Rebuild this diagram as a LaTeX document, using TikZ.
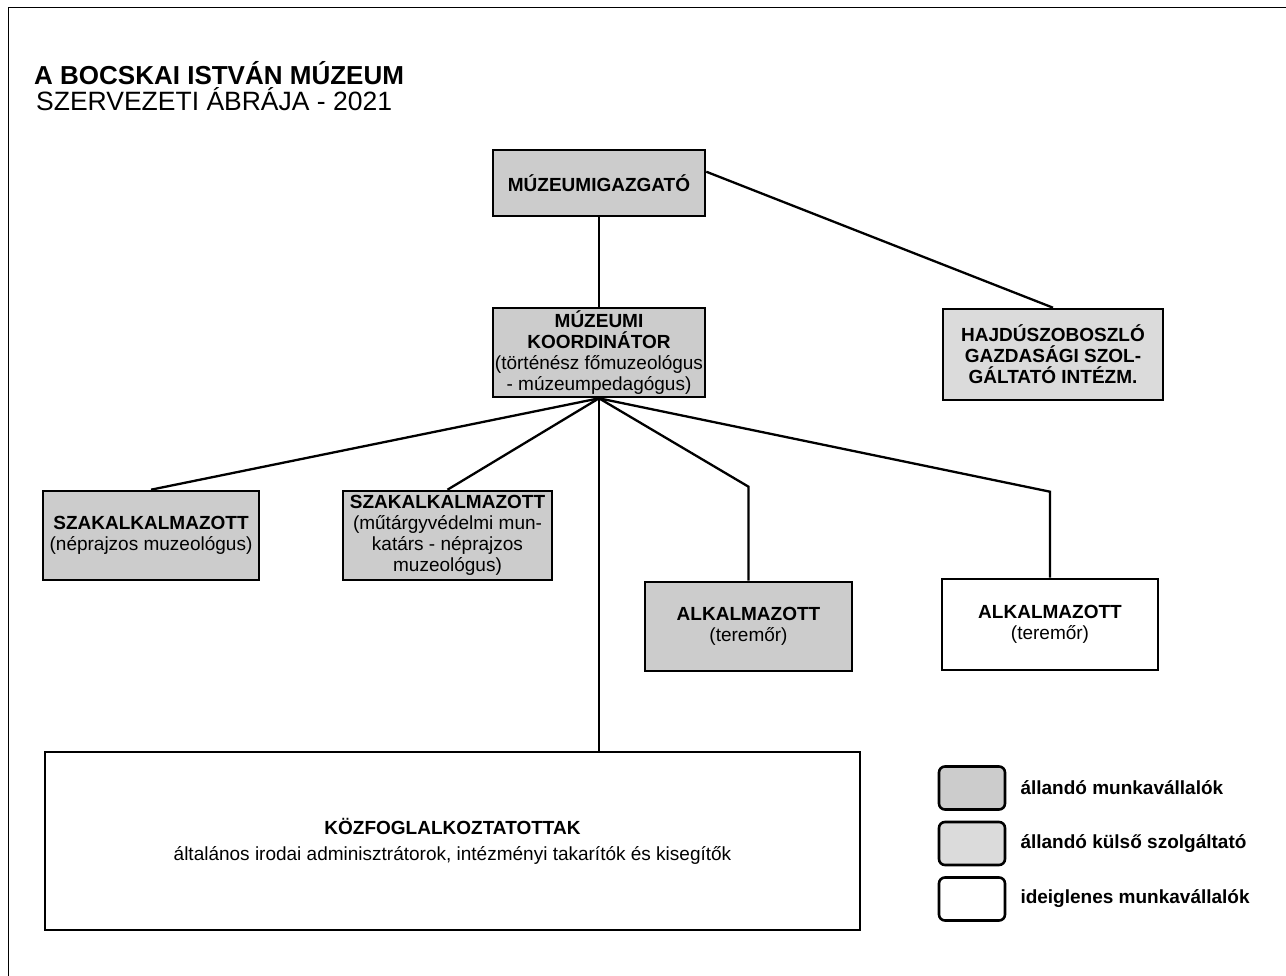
\documentclass[tikz,border=0pt]{standalone}
\usepackage{fontspec}
\setmainfont{Liberation Sans}
\usetikzlibrary{positioning}
\definecolor{permgray}{gray}{0.80}
\definecolor{extgray}{gray}{0.86}
\begin{document}
\begin{tikzpicture}[x=1pt, y=-1pt,
        box/.style={draw, line width=2.6pt, align=center, inner sep=1pt, font=\fontsize{19}{21}\selectfont},
        permbox/.style={box, fill=permgray},
        extbox/.style={box, fill=extgray},
        tempbox/.style={box, fill=white},
        legbox/.style={draw, line width=2.6pt, rounded corners=6pt, minimum width=66pt, minimum height=43pt},
        link/.style={line width=2.3pt}]
        \useasboundingbox (0,0) rectangle (1286,976);
        \draw[line width=1pt] (8,976) -- (8,8) -- (1286,8);

        % title
        \node[anchor=base west, inner sep=0pt, font=\fontsize{26}{28}\selectfont\bfseries] (title) at (34,85) {A BOCSKAI ISTVÁN MÚZEUM};
        \node[anchor=base west, inner sep=0pt, font=\fontsize{26.5}{28}\selectfont] (subtitle) at (36,111) {SZERVEZETI ÁBRÁJA - 2021};

        % boxes
        \node[permbox, minimum width=212pt, minimum height=66pt] (dir) at (599,183) {\textbf{MÚZEUMIGAZGATÓ}};
        \node[permbox, minimum width=212pt, minimum height=89pt] (koord) at (599,352.5)
            {\textbf{MÚZEUMI}\\\textbf{KOORDINÁTOR}\\(történész főmuzeológus\\- múzeumpedagógus)};
        \node[extbox, minimum width=220pt, minimum height=91pt] (hajdu) at (1053,354.5)
            {\textbf{HAJDÚSZOBOSZLÓ}\\\textbf{GAZDASÁGI SZOL-}\\\textbf{GÁLTATÓ INTÉZM.}};
        \node[permbox, minimum width=216pt, minimum height=89pt] (szak1) at (151,535.5)
            {\textbf{SZAKALKALMAZOTT}\\(néprajzos muzeológus)};
        \node[permbox, minimum width=209pt, minimum height=89pt] (szak2) at (447.5,535.5)
            {\textbf{SZAKALKALMAZOTT}\\(műtárgyvédelmi mun-\\katárs - néprajzos\\muzeológus)};
        \node[permbox, minimum width=207pt, minimum height=89pt] (alk1) at (748.5,626.5)
            {\textbf{ALKALMAZOTT}\\(teremőr)};
        \node[tempbox, minimum width=216pt, minimum height=91pt] (alk2) at (1050,624.5)
            {\textbf{ALKALMAZOTT}\\(teremőr)};
        \node[tempbox, minimum width=815pt, minimum height=178pt, font=\fontsize{19}{26}\selectfont] (kozf) at (452.5,841)
            {\textbf{KÖZFOGLALKOZTATOTTAK}\\általános irodai adminisztrátorok, intézményi takarítók és kisegítők};

        % connectors
        \draw[link] (dir.south) -- (koord.north);
        \draw[link] (dir.6) -- (hajdu.north);
        \draw[link] (koord.south) -- (szak1.north);
        \draw[link] (koord.south) -- (szak2.north);
        \draw[link] (koord.south) -- ([yshift=94pt]alk1.north) -- (alk1.north);
        \draw[link] (koord.south) -- ([yshift=86pt]alk2.north) -- (alk2.north);
        \draw[link] (koord.south) -- (koord.south |- kozf.north);

        % legend
        \foreach \c/\t [count=\i] in {permgray/állandó munkavállalók, extgray/állandó külső szolgáltató, white/ideiglenes munkavállalók} {
            \node[legbox, fill=\c] (leg\i) at (972, 788+55.5*\i-55.5) {};
            \node[right=14pt of leg\i, inner sep=0pt, font=\fontsize{19}{21}\selectfont\bfseries] (lab\i) {\t};
        }
    \end{tikzpicture}
\end{document}
